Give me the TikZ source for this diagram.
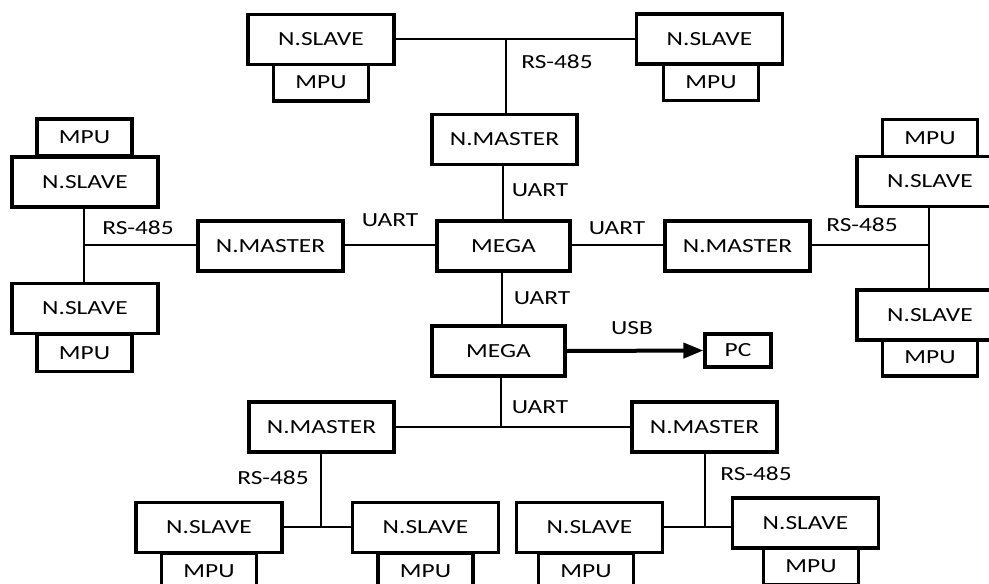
\documentclass[tikz,border=0pt]{standalone}
\usepackage{fontspec}
\setmainfont{Carlito}[FakeStretch=1.27]
\usetikzlibrary{arrows.meta}
\begin{document}
\begin{tikzpicture}[x=1pt,y=-1pt,
  every node/.style={font=\fontsize{20}{24}\selectfont, text height=12.8pt, text depth=0pt, inner sep=0pt},
  box/.style={draw=black, line width=3.2pt, fill=white},
  slavebox/.style={box, minimum width=146pt, minimum height=50pt},
  mpubox/.style={box, minimum width=95pt, minimum height=37pt},
  masterbox/.style={box, minimum width=145pt, minimum height=50pt},
  megabox/.style={box, minimum width=133pt, minimum height=50pt},
  pcbox/.style={box, minimum width=66pt, minimum height=33pt},
  wire/.style={draw=black, line width=1.8pt},
  lbl/.style={}]
\useasboundingbox (0,0) rectangle (989,584);
\clip (0,0) rectangle (989,584);
% ---- wires (drawn first) ----
\coordinate (jT) at (506,39);
\coordinate (jL) at (84,245);
\coordinate (jR) at (929,245);
\coordinate (jB) at (501,427);
\coordinate (jBL) at (321,527);
\coordinate (jBR) at (705,527);
% ---- top group ----
\node[mpubox] (pTL) at (321,82.5) {MPU};
\node[slavebox] (sTL) at (321,39.5) {N.SLAVE};
\node[mpubox] (pTR) at (711,82) {MPU};
\node[slavebox] (sTR) at (709.5,39) {N.SLAVE};
\node[masterbox] (mT) at (504.5,139.5) {N.MASTER};
% ---- middle ----
\node[megabox] (g1) at (503.5,246) {MEGA};
\node[masterbox] (mL) at (270.5,246) {N.MASTER};
\node[masterbox] (mR) at (737.5,246) {N.MASTER};
\node[megabox] (g2) at (498.5,351) {MEGA};
\node[pcbox] (pc) at (738,350.5) {PC};
% ---- left group ----
\node[mpubox] (pL1) at (84.5,137.5) {MPU};
\node[slavebox] (sL1) at (85,182) {N.SLAVE};
\node[mpubox] (pL2) at (84.5,353) {MPU};
\node[slavebox] (sL2) at (85,308.5) {N.SLAVE};
% ---- right group ----
\node[mpubox] (pR1) at (930,138) {MPU};
\node[slavebox] (sR1) at (930,181.5) {N.SLAVE};
\node[mpubox] (pR2) at (930,357.5) {MPU};
\node[slavebox] (sR2) at (930,315) {N.SLAVE};
% ---- bottom group ----
\node[masterbox] (mBL) at (321.5,427) {N.MASTER};
\node[masterbox] (mBR) at (704.5,427) {N.MASTER};
\node[mpubox] (pB1) at (209,571.5) {MPU};
\node[slavebox] (sB1) at (209,527.5) {N.SLAVE};
\node[mpubox] (pB2) at (425.5,571.5) {MPU};
\node[slavebox] (sB2) at (425.5,527.5) {N.SLAVE};
\node[mpubox] (pB3) at (586,571.5) {MPU};
\node[slavebox] (sB3) at (589.5,527.5) {N.SLAVE};
\node[mpubox] (pB4) at (811,566.5) {MPU};
\node[slavebox] (sB4) at (805.5,523) {N.SLAVE};
% ---- connectors ----
\draw[wire] (sTL.east |- jT) -- (sTR.west |- jT);
\draw[wire] (jT) -- (jT |- mT.north);
\draw[wire] (g1.north -| 503,0) -- (mT.south -| 503,0);
\draw[wire] (mL.east |- jL) -- (g1.west |- jL);
\draw[wire] (g1.east |- jR) -- (mR.west |- jR);
\draw[wire] (jL |- sL1.south) -- (jL |- sL2.north);
\draw[wire] (jL) -- (mL.west |- jL);
\draw[wire] (jR |- sR1.south) -- (jR |- sR2.north);
\draw[wire] (mR.east |- jR) -- (jR);
\draw[wire] (g1.south -| 502,0) -- (g2.north -| 502,0);
\draw[line width=4pt, -{Triangle[length=20pt,width=15pt]}] (g2.east) -- (pc.west);
\draw[wire] (g2.south -| jB) -- (jB);
\draw[wire] (mBL.east |- jB) -- (mBR.west |- jB);
\draw[wire] (mBL.south -| jBL) -- (jBL);
\draw[wire] (sB1.east |- jBL) -- (sB2.west |- jBL);
\draw[wire] (mBR.south -| jBR) -- (jBR);
\draw[wire] (sB3.east |- jBR) -- (sB4.west |- jBR);
% ---- labels ----
\node[lbl] (t1) at (557,62) {RS-485};
\node[lbl] (t2) at (540,190) {UART};
\node[lbl] (t3) at (390,220) {UART};
\node[lbl] (t4) at (617,228) {UART};
\node[lbl] (t5) at (138,228) {RS-485};
\node[lbl] (t6) at (862,225) {RS-485};
\node[lbl] (t7) at (542,298) {UART};
\node[lbl] (t8) at (632,328) {USB};
\node[lbl] (t9) at (540,407) {UART};
\node[lbl] (t10) at (273,478) {RS-485};
\node[lbl] (t11) at (756,474) {RS-485};
\end{tikzpicture}
\end{document}
